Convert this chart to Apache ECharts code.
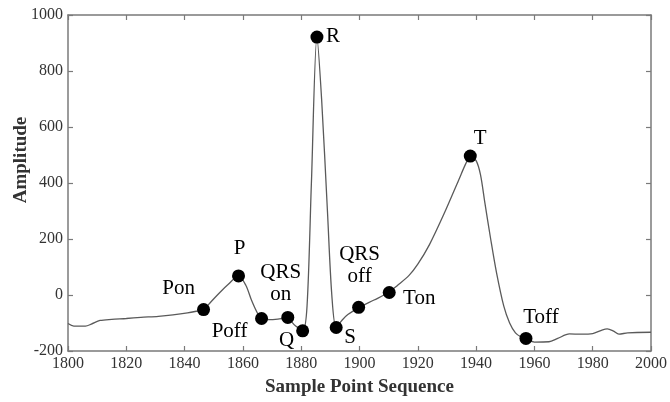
<!DOCTYPE html>
<html>
<head>
<meta charset="utf-8">
<script src="https://cdn.jsdelivr.net/npm/echarts@6/dist/echarts.min.js"></script>
<style>
  html, body { margin: 0; padding: 0; background: #fff; }
  #chart { width: 670px; height: 402px; }
</style>
</head>
<body>
<div id="chart"></div>
<script>
// ECG trace
const sampleX = [1800, 1802, 1806, 1808, 1811, 1815, 1820, 1825, 1831, 1836, 1841, 1844, 1846.5,
  1849, 1852, 1855, 1858.5, 1861, 1863, 1865, 1866.5, 1869, 1872, 1875, 1878, 1880.5,
  1882, 1883.5, 1885.4, 1887, 1889, 1890.5, 1892, 1894, 1896, 1900, 1905, 1910,
  1913, 1917, 1920, 1924, 1929, 1934, 1936.5, 1938, 1940, 1941.5, 1943, 1945, 1947,
  1949.5, 1951.5, 1953.5, 1955.5, 1957, 1960, 1965, 1968, 1972, 1976, 1980, 1983,
  1985, 1987, 1989, 1992, 2000];
const amplitude = [-102, -111, -111, -104, -91, -87, -84, -80, -76, -71, -64, -58, -52,
  -25, 8, 38, 68, 35, -20, -65, -84, -88, -86, -82, -110, -128,
  -40, 400, 921, 700, 300, 0, -116, -90, -70, -44, -18, 9,
  34, 70, 110, 180, 290, 410, 470, 496, 480, 430, 330, 200, 80,
  -40, -100, -135, -150, -155, -168, -167, -155, -139, -140, -138, -126,
  -121, -128, -140, -135, -133];

// fiducial points
const markNames = ['Pon', 'P', 'Poff', 'QRS\non', 'Q', 'R', 'S', 'QRS\noff', 'Ton', 'T', 'Toff'];
const markX = [1846.5, 1858.5, 1866.4, 1875.4, 1880.5, 1885.4, 1892, 1899.7, 1910.2, 1938, 1957.1];
const markY = [-52, 68, -84, -80, -128, 921, -116, -44, 9, 496, -155];

const xTicks = { min: 1800, max: 2000, step: 20 };
const yTicks = { min: -200, max: 1000, step: 200 };

// label offsets relative to each marker (px)
const labelOffset = {
  'Pon': [-25, -21],
  'P': [1, -27],
  'Poff': [-32, 13],
  'QRS\non': [-7, -34],
  'Q': [-16, 10],
  'R': [16, -1],
  'S': [14, 10],
  'QRS\noff': [1, -42],
  'Ton': [30, 6],
  'T': [10, -18],
  'Toff': [15, -21]
};

const serif = '"Liberation Serif", "DejaVu Serif", serif';
const axisGray = '#7a7a7a';
const textGray = '#333';

const chart = echarts.init(document.getElementById('chart'));

const baseAxis = {
  type: 'value',
  splitLine: { show: false },
  axisLine: { show: true, onZero: false, lineStyle: { color: axisGray, width: 1.5 } },
  axisTick: { show: true, inside: true, length: 5, lineStyle: { color: axisGray, width: 1.2 } }
};

const plainNum = (v) => String(v);

const option = {
  animation: false,
  backgroundColor: '#fff',
  grid: { left: 68, right: 15, top: 15, bottom: 46 },
  xAxis: [
    Object.assign({}, baseAxis, {
      position: 'bottom',
      min: xTicks.min,
      max: xTicks.max,
      interval: xTicks.step,
      name: 'Sample Point Sequence',
      nameLocation: 'middle',
      nameGap: 27,
      nameTextStyle: { fontFamily: serif, fontWeight: 'bold', fontSize: 19, color: textGray },
      axisLabel: { margin: 5, fontFamily: serif, fontSize: 16, color: textGray, formatter: plainNum }
    }),
    Object.assign({}, baseAxis, {
      position: 'top',
      min: xTicks.min,
      max: xTicks.max,
      interval: xTicks.step,
      axisLabel: { show: false }
    })
  ],
  yAxis: [
    Object.assign({}, baseAxis, {
      position: 'left',
      min: yTicks.min,
      max: yTicks.max,
      interval: yTicks.step,
      axisLabel: { margin: 5, fontFamily: serif, fontSize: 16, color: textGray, formatter: plainNum }
    }),
    Object.assign({}, baseAxis, {
      position: 'right',
      min: yTicks.min,
      max: yTicks.max,
      interval: yTicks.step,
      axisLabel: { show: false }
    })
  ],
  graphic: [
    {
      type: 'text',
      x: 21,
      y: 160,
      rotation: Math.PI / 2,
      style: {
        text: 'Amplitude',
        font: 'bold 19px ' + serif,
        fill: textGray,
        align: 'center',
        verticalAlign: 'middle'
      }
    }
  ],
  series: [
    {
      type: 'line',
      data: sampleX.map((x, i) => [x, amplitude[i]]),
      showSymbol: false,
      smooth: 0.3,
      lineStyle: { color: '#5a5a5a', width: 1.3 },
      z: 2
    },
    {
      type: 'scatter',
      data: markX.map((x, i) => ({
        value: [x, markY[i]],
        name: markNames[i],
        label: { offset: labelOffset[markNames[i]] }
      })),
      symbol: 'circle',
      symbolSize: 13,
      itemStyle: { color: '#000', opacity: 1 },
      label: {
        show: true,
        position: 'inside',
        formatter: (p) => p.name,
        fontFamily: serif,
        fontSize: 21,
        lineHeight: 22,
        color: '#000',
        align: 'center',
        verticalAlign: 'middle'
      },
      z: 3
    }
  ]
};

chart.setOption(option);
</script>
</body>
</html>
